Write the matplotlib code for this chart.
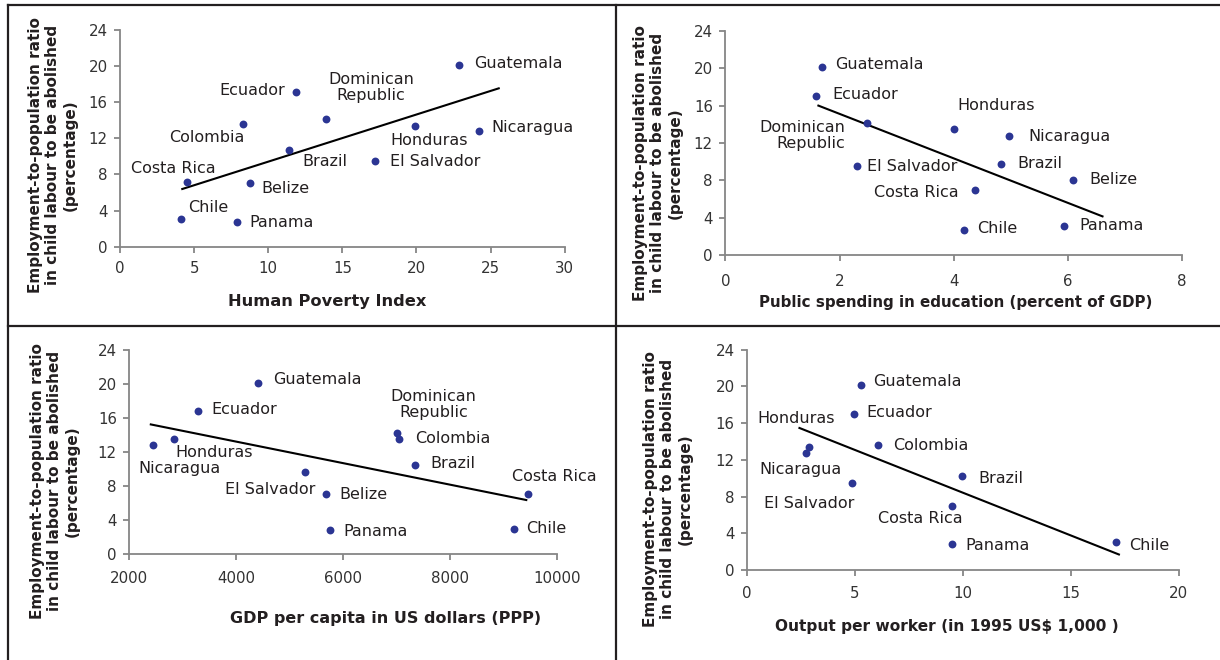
import numpy as np
import matplotlib
matplotlib.use("Agg")
import matplotlib.pyplot as plt
from matplotlib.lines import Line2D

# ---- data ----
y_title = "Employment-to-population ratio\nin child labour to be abolished\n(percentage)"

hpi_names = ["Guatemala", "Ecuador", "Colombia", "Dominican\nRepublic", "Honduras", "Nicaragua",
             "Brazil", "El Salvador", "Costa Rica", "Belize", "Chile", "Panama"]
hpi_x = [22.9, 11.9, 8.3, 13.9, 19.9, 24.2, 11.4, 17.2, 4.5, 8.8, 4.1, 7.9]
hpi_y = [20.1, 17.1, 13.6, 14.1, 13.4, 12.8, 10.7, 9.5, 7.2, 7.0, 3.1, 2.7]

edu_names = ["Guatemala", "Ecuador", "Dominican\nRepublic", "Honduras", "Nicaragua", "El Salvador",
             "Brazil", "Belize", "Costa Rica", "Chile", "Panama"]
edu_x = [1.70, 1.59, 2.48, 4.01, 4.97, 2.31, 4.83, 6.10, 4.37, 4.18, 5.94]
edu_y = [20.1, 17.0, 14.1, 13.5, 12.8, 9.5, 9.8, 8.0, 7.0, 2.7, 3.1]

gdp_names = ["Guatemala", "Ecuador", "Nicaragua", "Honduras", "Dominican\nRepublic", "Colombia",
             "Brazil", "El Salvador", "Belize", "Costa Rica", "Panama", "Chile"]
gdp_x = [4400, 3280, 2440, 2840, 7010, 7045, 7345, 5280, 5670, 9460, 5750, 9190]
gdp_y = [20.2, 16.9, 12.8, 13.5, 14.2, 13.5, 10.5, 9.7, 7.1, 7.1, 2.8, 3.0]

opw_names = ["Guatemala", "Ecuador", "Colombia", "Honduras", "Nicaragua", "El Salvador",
             "Brazil", "Costa Rica", "Panama", "Chile"]
opw_x = [5.30, 4.94, 6.08, 2.86, 2.75, 4.85, 9.96, 9.52, 9.52, 17.08]
opw_y = [20.2, 17.0, 13.6, 13.4, 12.8, 9.5, 10.2, 7.0, 2.8, 3.0]

x_titles = ["Human Poverty Index", "Public spending in education (percent of GDP)",
            "GDP per capita in US dollars (PPP)", "Output per worker (in 1995 US$ 1,000 )"]
x_ticks = [[0, 5, 10, 15, 20, 25, 30], [0, 2, 4, 6, 8],
           [2000, 4000, 6000, 8000, 10000], [0, 5, 10, 15, 20]]
y_ticks = [0, 4, 8, 12, 16, 20, 24]
trend_x = [[4.2, 25.55], [1.63, 6.61], [2400, 9420], [2.43, 17.23]]

# ---- layout (pixels in a 1220x660 canvas) ----
W, H = 1220, 660
axes_px = [(120, 564.7, 30, 246.7), (725.4, 1181.8, 30.7, 255.3),
           (129.4, 557.3, 350.3, 554), (747, 1178.7, 349.7, 570)]
ylab_px = [(53, 155), (658, 163), (55, 481), (668, 489)]
xlab_px = [(327, 302), (956, 303), (386, 618), (947, 627)]
xlab_size = [11.7, 10.9, 11.5, 11.1]
xpad = [6.5, 9.5, 8, 7.5]

# label offsets (pixels) and alignment per point
offs = [
    [(15, 2, "left"), (-11, 2, "right"), (-36, -14, "center"), (45, 32, "center"), (14, -15, "center"),
     (13, 4, "left"), (13, -11, "left"), (15, -1, "left"), (-13, 13, "center"), (11, -5, "left"),
     (7, 11, "left"), (12, 0, "left")],
    [(13, 3, "left"), (16, 2, "left"), (-22, -12, "right"), (42, 23, "center"), (19, -1, "left"),
     (10, 0, "left"), (16, 0, "left"), (16, 1, "left"), (-16, -3, "right"), (13, 2, "left"),
     (15, 1, "left")],
    [(15, 3, "left"), (14, 1, "left"), (27, -23, "center"), (1, -13, "left"), (36, 29, "center"),
     (16, 1, "left"), (15, 1, "left"), (11, -18, "right"), (14, -1, "left"), (26, 17, "center"),
     (13, -1, "left"), (12, 0, "left")],
    [(12, 3, "left"), (13, 1, "left"), (15, 0, "left"), (-13, 28, "center"), (-6, -17, "center"),
     (-42, -21, "center"), (16, -2, "left"), (-32, -13, "center"), (13, -1, "left"), (13, -3, "left")],
]

panels = [(hpi_names, hpi_x, hpi_y), (edu_names, edu_x, edu_y),
          (gdp_names, gdp_x, gdp_y), (opw_names, opw_x, opw_y)]

plt.rcParams['font.family'] = 'DejaVu Sans'
fig = plt.figure(figsize=(W / 100, H / 100), dpi=100)
fig.patch.set_facecolor('white')

dot = '#2b3593'
axis_grey = '#868686'
txt = '#231f20'

for i, (names, xs, ys) in enumerate(panels):
    l, r, t, b = axes_px[i]
    ax = fig.add_axes([l / W, 1 - b / H, (r - l) / W, (b - t) / H])
    ax.scatter(xs, ys, s=32, color=dot, zorder=3, clip_on=False, linewidths=0)

    # linear trend line fitted to the points
    k, c = np.polyfit(xs, ys, 1)
    tx = np.array(trend_x[i])
    ax.plot(tx, k * tx + c, color='black', lw=1.5, zorder=2)

    for name, x, y, (dx, dy, ha) in zip(names, xs, ys, offs[i]):
        ax.annotate(name, (x, y), xytext=(dx, dy), textcoords='offset pixels',
                    ha=ha, va='center', fontsize=11.5, color=txt,
                    multialignment=ha, linespacing=1.05)

    ax.set_xlim(x_ticks[i][0], x_ticks[i][-1])
    ax.set_ylim(0, 24)
    ax.set_xticks(x_ticks[i])
    ax.set_yticks(y_ticks)
    for s in ['top', 'right']:
        ax.spines[s].set_visible(False)
    for s in ['left', 'bottom']:
        ax.spines[s].set_color(axis_grey)
        ax.spines[s].set_linewidth(1.3)
    ax.tick_params(axis='both', colors=axis_grey, width=1.3, length=4, labelsize=10.8,
                   labelcolor='#333333')
    ax.tick_params(axis='y', pad=5)
    ax.tick_params(axis='x', pad=xpad[i])
    ax.patch.set_alpha(0)

    fig.text(ylab_px[i][0] / W, 1 - ylab_px[i][1] / H, y_title, rotation=90,
             ha='center', va='center', fontsize=11, fontweight='bold', color=txt,
             multialignment='center', linespacing=1.22)
    fig.text(xlab_px[i][0] / W, 1 - xlab_px[i][1] / H, x_titles[i],
             ha='center', va='center', fontsize=xlab_size[i], fontweight='bold', color=txt)

# panel frame lines
frame = [((8, 1220), (5, 5)), ((8, 8), (5, 660)), ((615.7, 615.7), (5, 660)), ((8, 1220), (325.7, 325.7))]
for xs, ys in frame:
    fig.add_artist(Line2D([v / W for v in xs], [1 - v / H for v in ys], color=txt, lw=1.6))

fig.savefig('out.png', dpi=100)
